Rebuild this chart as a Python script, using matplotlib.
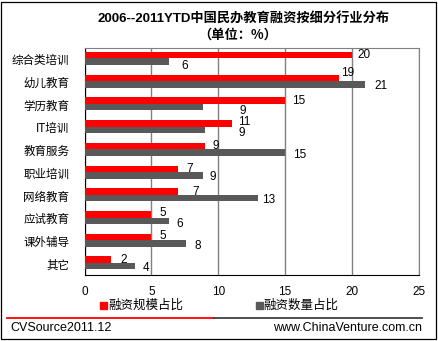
import matplotlib
matplotlib.use('Agg')
import matplotlib.pyplot as plt
from matplotlib.lines import Line2D
from matplotlib.patches import Rectangle

# Data (percent)
categories = ['综合类培训', '幼儿教育', '学历教育', 'IT培训', '教育服务',
              '职业培训', '网络教育', '应试教育', '课外辅导', '其它']
scale_share = [20, 19, 15, 11, 9, 7, 7, 5, 5, 2]          # 融资规模占比
count_share = [6.3, 21, 8.9, 9, 15, 8.9, 13, 6.3, 7.6, 3.8]  # 融资数量占比
xticks = [0, 5, 10, 15, 20, 25]

title = '2006--2011YTD中国民办教育融资按细分行业分布'
subtitle = '（单位：%）'
legend_labels = ['融资规模占比', '融资数量占比']
source_left = 'CVSource2011.12'
source_right = 'www.ChinaVenture.com.cn'

# label nudges in pixels (Excel had some labels moved by hand)
red_dx = [12, 9, 14, 13, 11, 12, 18, 11, 11, 12]
red_dy = [0, 5, 0, 1, 0, 0, 0, 1, 1, 0]
gray_dx = [16, 16, 39, 37, 15, 9, 10, 11, 12, 11]
gray_dy = [-4, -2, -4, -3, -2, -2, -2, -3, -3, -2]

RED = '#FF0000'
GRAY = '#595959'
latin = ['Liberation Sans', 'Noto Sans CJK SC']
cjk = ['Noto Sans CJK SC', 'Liberation Sans']

fig = plt.figure(figsize=(4.39, 3.41), dpi=100)
ax = fig.add_axes([0.1925, 0.1935, 0.7613, 0.6666])

n = len(categories)
ypos = list(range(n))
h = 0.285
red_y = [y - h / 2 - 0.03 for y in ypos]
gray_y = [y + h / 2 - 0.03 for y in ypos]
ax.barh(red_y, scale_share, height=h, color=RED, zorder=3)
ax.barh(gray_y, count_share, height=h, color=GRAY, zorder=3)

ax.set_ylim(n - 0.5, -0.5)
ax.set_xlim(0, 25)
ax.set_xticks(xticks)
ax.set_xticklabels([str(t) for t in xticks], family=latin, fontsize=8.5)
ax.set_yticks(ypos)
ax.set_yticklabels(categories, family=cjk, fontsize=8.3)
ax.tick_params(axis='both', length=0)
ax.tick_params(axis='x', pad=8)
ax.tick_params(axis='y', pad=11)
ax.xaxis.grid(True, color='#808080', linewidth=1, zorder=0)
for s in ['top', 'right']:
    ax.spines[s].set_color('#808080')
for s in ['left', 'bottom']:
    ax.spines[s].set_color('black')

for i in range(n):
    ax.annotate('%.0f' % scale_share[i], (scale_share[i], red_y[i]),
                xytext=(red_dx[i], red_dy[i]), textcoords='offset pixels',
                ha='center', va='center', fontsize=8.5, family=latin)
    ax.annotate('%.0f' % count_share[i], (count_share[i], gray_y[i]),
                xytext=(gray_dx[i], gray_dy[i]), textcoords='offset pixels',
                ha='center', va='center', fontsize=8.5, family=latin)

# title
fig.text(244 / 439, 1 - 19 / 341, title, ha='center', va='center',
         fontsize=9.5, fontweight='bold', family=latin)
fig.text(238 / 439, 1 - 35 / 341, subtitle, ha='center', va='center',
         fontsize=9.5, fontweight='bold', family=cjk)

# legend
fig.patches.append(Rectangle((100 / 439, 1 - 309 / 341), 7 / 439, 7 / 341,
                             transform=fig.transFigure, color=RED))
fig.text(108 / 439, 1 - 305 / 341, legend_labels[0], ha='left', va='center',
         fontsize=9, family=cjk)
fig.patches.append(Rectangle((256 / 439, 1 - 309 / 341), 7 / 439, 7 / 341,
                             transform=fig.transFigure, color=GRAY))
fig.text(263 / 439, 1 - 305 / 341, legend_labels[1], ha='left', va='center',
         fontsize=9, family=cjk)

# footer line and source texts
fig.lines.append(Line2D([7 / 439, 214 / 439], [1 - 317.5 / 341] * 2,
                        transform=fig.transFigure, color=RED, linewidth=1.3))
fig.lines.append(Line2D([214 / 439, 422 / 439], [1 - 317.5 / 341] * 2,
                        transform=fig.transFigure, color='#404040', linewidth=1.3))
fig.text(10 / 439, 1 - 328 / 341, source_left, ha='left', va='center',
         fontsize=9, family=latin)
fig.text(422 / 439, 1 - 328 / 341, source_right, ha='right', va='center',
         fontsize=9, family=latin)

# outer frame
fig.patches.append(Rectangle((1.5 / 439, 2 / 341), 435 / 439, 337 / 341,
                             transform=fig.transFigure, fill=False,
                             edgecolor='black', linewidth=0.9))

fig.savefig('out.png', dpi=100)
